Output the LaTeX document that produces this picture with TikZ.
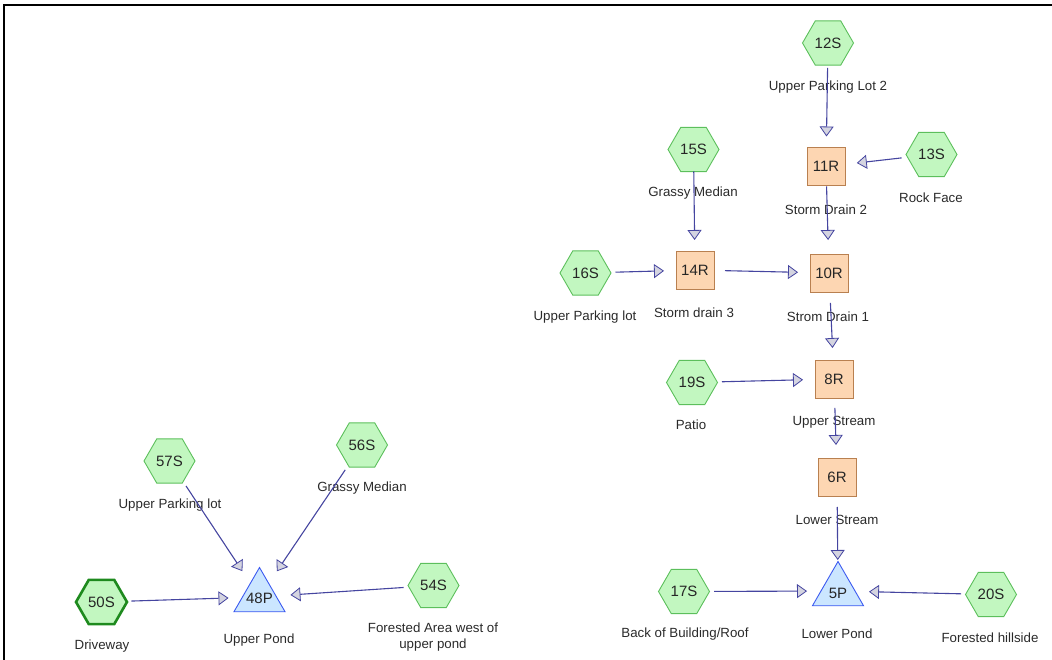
\documentclass[tikz,border=0pt]{standalone}
\usepackage{fontspec}
\setmainfont{Liberation Sans}
\usetikzlibrary{shapes.geometric,arrows.meta}
\definecolor{hexfill}{HTML}{C2F7C0}
\definecolor{hexdraw}{HTML}{5CBF5C}
\definecolor{hexdark}{HTML}{1E8A1E}
\definecolor{rfill}{HTML}{FDD6B2}
\definecolor{rdraw}{HTML}{B98050}
\definecolor{pfill}{HTML}{CBE6FF}
\definecolor{pdraw}{HTML}{3C5AF0}
\definecolor{flowc}{HTML}{4545A0}
\definecolor{headfill}{HTML}{D4D4E0}
\definecolor{labc}{HTML}{2A2A2A}
\tikzset{
  sub/.style={regular polygon, regular polygon sides=6, minimum size=51pt, inner sep=0pt,
    fill=hexfill, draw=hexdraw, line width=0.9pt, font=\fontsize{15}{15}\selectfont, text=black!85},
  subdark/.style={sub, draw=hexdark, line width=2.6pt},
  reach/.style={rectangle, minimum width=38pt, minimum height=38pt, inner sep=0pt,
    fill=rfill, draw=rdraw, line width=0.9pt, font=\fontsize{15}{15}\selectfont, text=black!85},
  pond/.style={regular polygon, regular polygon sides=3, minimum size=59pt, inner sep=0pt,
    fill=pfill, draw=pdraw, line width=0.9pt},
  pondtext/.style={font=\fontsize{15}{15}\selectfont, text=black!85, inner sep=0pt},
  lab/.style={font=\fontsize{13.3}{15.5}\selectfont, text=labc, align=center, inner sep=0pt},
  flow/.style={draw=flowc, line width=1.1pt, shorten <=30pt, shorten >=31pt,
    -{Triangle[length=10pt,width=14pt,fill=headfill,line width=0.8pt]}},
  frameline/.style={line width=2pt, draw=black}
}
\begin{document}
\begin{tikzpicture}[x=1pt,y=-1pt]
\useasboundingbox (0,0) rectangle (1052,660);
\draw[frameline] (4,661) -- (4,5) -- (1053,5);

% right system
\node[sub] (n12S) at (828,43) {12S};
\node[lab] (l12S) at (828,87) {Upper Parking Lot 2};
\node[reach] (n11R) at (826,166.5) {11R};
\node[lab] (l11R) at (826,210) {Storm Drain 2};
\node[sub] (n13S) at (931.5,154.5) {13S};
\node[lab] (l13S) at (931,198) {Rock Face};
\node[sub] (n15S) at (693.5,149.5) {15S};
\node[lab] (l15S) at (693,193) {Grassy Median};
\node[reach] (n14R) at (695,270) {14R};
\node[lab] (l14R) at (694,313) {Storm drain 3};
\node[sub] (n16S) at (585.5,273) {16S};
\node[lab] (l16S) at (585,317) {Upper Parking lot};
\node[reach] (n10R) at (829,273) {10R};
\node[lab] (l10R) at (828,317) {Strom Drain 1};
\node[sub] (n19S) at (692,382.5) {19S};
\node[lab] (l19S) at (691,425) {Patio};
\node[reach] (n8R) at (834,379) {8R};
\node[lab] (l8R) at (834,422) {Upper Stream};
\node[reach] (n6R) at (837,477) {6R};
\node[lab] (l6R) at (837,520) {Lower Stream};
\node[pond] (n5P) at (838,591) {};
\node[pondtext] (t5P) at (838,593) {5P};
\node[lab] (l5P) at (837,634) {Lower Pond};
\node[sub] (n17S) at (684,591.5) {17S};
\node[lab] (l17S) at (685,634) {Back of Building/Roof};
\node[sub] (n20S) at (991,594.5) {20S};
\node[lab] (l20S) at (990,638) {Forested hillside};

% left system
\node[sub] (n57S) at (169.5,461) {57S};
\node[lab] (l57S) at (170,505) {Upper Parking lot};
\node[sub] (n56S) at (362,445) {56S};
\node[lab] (l56S) at (362,488) {Grassy Median};
\node[subdark] (n50S) at (101.5,602) {50S};
\node[lab] (l50S) at (102,646) {Driveway};
\node[pond] (n48P) at (259.5,597) {};
\node[pondtext] (t48P) at (259.5,598) {48P};
\node[lab] (l48P) at (259,640) {Upper Pond};
\node[sub] (n54S) at (433.5,585.5) {54S};
\node[lab] (l54S) at (433,637) {Forested Area west of\\upper pond};

% connectors
\draw[flow, shorten <=25pt, shorten >=30pt] (n12S.center) -- (n11R.center);
\draw[flow] (n13S.center) -- (n11R.center);
\draw[flow, shorten <=20pt, shorten >=33pt] (n11R.center) -- (n10R.center);
\draw[flow, shorten <=22pt, shorten >=30pt] (n15S.center) -- (n14R.center);
\draw[flow] (n16S.center) -- (n14R.center);
\draw[flow] (n14R.center) -- (n10R.center);
\draw[flow] (n10R.center) -- (n8R.center);
\draw[flow] (n19S.center) -- (n8R.center);
\draw[flow, shorten <=29pt, shorten >=32pt] (n8R.center) -- (n6R.center);
\draw[flow] (n6R.center) -- (n5P.center);
\draw[flow] (n17S.center) -- (n5P.center);
\draw[flow] (n20S.center) -- (n5P.center);
\draw[flow] (n57S.center) -- (n48P.center);
\draw[flow] (n56S.center) -- (n48P.center);
\draw[flow] (n50S.center) -- (n48P.center);
\draw[flow] (n54S.center) -- (n48P.center);
\end{tikzpicture}
\end{document}
